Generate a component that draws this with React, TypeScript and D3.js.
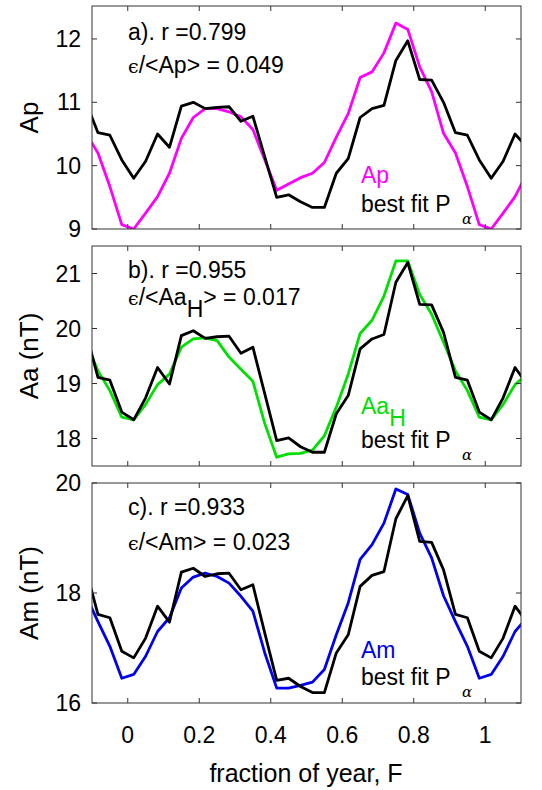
import React from 'react'
import * as d3 from 'd3'

// 30 samples per year, at F = 1/60 + k/30
const apObs = [9.0, 9.25, 9.51, 9.88, 10.43, 10.76, 10.9, 10.9, 10.85, 10.77, 10.57, 10.09, 9.61, 9.71, 9.81, 9.88, 10.05, 10.45, 10.82, 11.39, 11.48, 11.78, 12.25, 12.15, 11.56, 11.17, 10.51, 10.2, 9.67, 9.07]
const apFit = [9.8, 10.07, 10.5, 10.29, 10.94, 11.0, 10.9, 10.92, 10.93, 10.7, 10.78, 10.14, 9.5, 9.54, 9.43, 9.34, 9.34, 9.88, 10.11, 10.76, 10.9, 10.95, 11.66, 11.97, 11.36, 11.35, 11.0, 10.52, 10.48, 10.09]
const aaObs = [18.34, 18.62, 18.98, 19.17, 19.66, 19.81, 19.83, 19.78, 19.48, 19.26, 19.04, 18.27, 17.66, 17.72, 17.73, 17.79, 18.05, 18.57, 19.17, 19.91, 20.15, 20.59, 21.23, 21.23, 20.62, 20.26, 19.75, 19.23, 18.87, 18.39]
const aaFit = [18.34, 18.74, 19.29, 18.99, 19.87, 19.96, 19.82, 19.85, 19.86, 19.55, 19.66, 18.81, 17.96, 18.01, 17.85, 17.75, 17.75, 18.45, 18.78, 19.63, 19.81, 19.89, 20.84, 21.2, 20.44, 20.43, 19.93, 19.11, 19.06, 18.48]
const amObs = [16.52, 16.85, 17.3, 17.55, 18.09, 18.29, 18.36, 18.3, 18.18, 17.94, 17.67, 16.91, 16.27, 16.27, 16.32, 16.38, 16.61, 17.24, 17.82, 18.61, 18.88, 19.27, 19.89, 19.79, 19.09, 18.64, 17.95, 17.48, 17.03, 16.45]
const amFit = [16.82, 17.18, 17.76, 17.47, 18.38, 18.45, 18.3, 18.35, 18.36, 18.06, 18.15, 17.27, 16.41, 16.45, 16.3, 16.19, 16.19, 16.91, 17.24, 18.12, 18.32, 18.39, 19.35, 19.77, 18.94, 18.92, 18.42, 17.61, 17.55, 16.94]

const xTicks = [0, 0.2, 0.4, 0.6, 0.8, 1]
const xTickLabels = ['0', '0.2', '0.4', '0.6', '0.8', '1']

const L = 92, R = 521
const x = d3.scaleLinear().domain([-0.1, 1.1]).range([L, R])
const font = 'Liberation Sans, Arial, sans-serif'
const fs = 23

// periodic extension of one year of samples
const extend = (arr: number[]) => d3.range(-4, 34).map(k => ({ f: 1 / 60 + k / 30, v: arr[((k % 30) + 30) % 30] }))

interface PanelProps {
  id: string, top: number, bottom: number, domain: [number, number], yTicks: number[],
  obs: number[], fit: number[], color: string, ylabel: string,
  title: string, errName: string, errSub?: string, errVal: string,
  legName: string, legSub?: string, ann: number[]
}

const Panel = (p: PanelProps) => {
  const y = d3.scaleLinear().domain(p.domain).range([p.bottom, p.top])
  const line = d3.line<{ f: number, v: number }>().x(d => x(d.f)).y(d => y(d.v))
  const [t1, t2, l1, l2] = p.ann
  return (
    <g>
      <clipPath id={p.id}><rect x={L} y={p.top} width={R - L} height={p.bottom - p.top} /></clipPath>
      <g clipPath={`url(#${p.id})`} fill="none" strokeWidth={2.8} strokeLinejoin="round">
        <path d={line(extend(p.obs)) || ''} stroke={p.color} />
        <path d={line(extend(p.fit)) || ''} stroke="#000" />
      </g>
      <rect x={L} y={p.top} width={R - L} height={p.bottom - p.top} fill="none" stroke="#333" strokeWidth={1} />
      {xTicks.map(t => (
        <g key={t} stroke="#333">
          <line x1={x(t)} x2={x(t)} y1={p.bottom} y2={p.bottom - 5} />
          <line x1={x(t)} x2={x(t)} y1={p.top} y2={p.top + 5} />
        </g>
      ))}
      {p.yTicks.map(t => (
        <g key={t}>
          <line x1={L} x2={L + 5} y1={y(t)} y2={y(t)} stroke="#333" />
          <line x1={R} x2={R - 5} y1={y(t)} y2={y(t)} stroke="#333" />
          <text x={81} y={y(t) + 8} textAnchor="end" fontSize={fs} fontFamily={font}>{t}</text>
        </g>
      ))}
      <text transform={`translate(38,${(p.top + p.bottom) / 2}) rotate(-90)`} textAnchor="middle" fontSize={26} fontFamily={font}>{p.ylabel}</text>
      <text x={128} y={t1} fontSize={fs} fontFamily={font}>{p.title}</text>
      <text x={128} y={t2} fontSize={fs} fontFamily={font}>
        <tspan fontFamily="DejaVu Serif, serif" fontSize={19}>ϵ</tspan>/&lt;{p.errName}
        {p.errSub && <tspan dy={12}>{p.errSub}</tspan>}
        <tspan dy={p.errSub ? -12 : 0}>&gt; = {p.errVal}</tspan>
      </text>
      <text x={361} y={l1} fontSize={fs} fontFamily={font} fill={p.color}>
        {p.legName}
        {p.legSub && <tspan dy={12}>{p.legSub}</tspan>}
      </text>
      <text x={361} y={l2} fontSize={fs} fontFamily={font}>best fit P</text>
      <text x={462} y={l2 + 12} fontSize={15} fontStyle="italic" fontFamily="DejaVu Serif, serif">α</text>
    </g>
  )
}

export default function App() {
  return (
    <svg width={542} height={790} style={{ position: 'absolute', left: 0, top: 0, background: '#fff' }}>
      <Panel id="ca" top={6} bottom={229} domain={[9, 12.52]} yTicks={[9, 10, 11, 12]} obs={apObs} fit={apFit}
        color="#ff00ff" ylabel="Ap" title="a). r =0.799" errName="Ap" errVal="0.049" legName="Ap" ann={[40, 73, 183, 212]} />
      <Panel id="cb" top={246} bottom={466} domain={[17.5, 21.5]} yTicks={[18, 19, 20, 21]} obs={aaObs} fit={aaFit}
        color="#00e000" ylabel="Aa (nT)" title="b). r =0.955" errName="Aa" errSub="H" errVal="0.017" legName="Aa" legSub="H" ann={[278, 305, 414, 448]} />
      <Panel id="cc" top={483} bottom={703} domain={[16, 20]} yTicks={[16, 18, 20]} obs={amObs} fit={amFit}
        color="#0000ee" ylabel="Am (nT)" title="c). r =0.933" errName="Am" errVal="0.023" legName="Am" ann={[515, 550, 658, 685]} />
      {xTicks.map((t, i) => (
        <text key={t} x={x(t)} y={743} textAnchor="middle" fontSize={fs} fontFamily={font}>{xTickLabels[i]}</text>
      ))}
      <text x={306} y={782} textAnchor="middle" fontSize={25} fontFamily={font}>fraction of year, F</text>
    </svg>
  )
}
